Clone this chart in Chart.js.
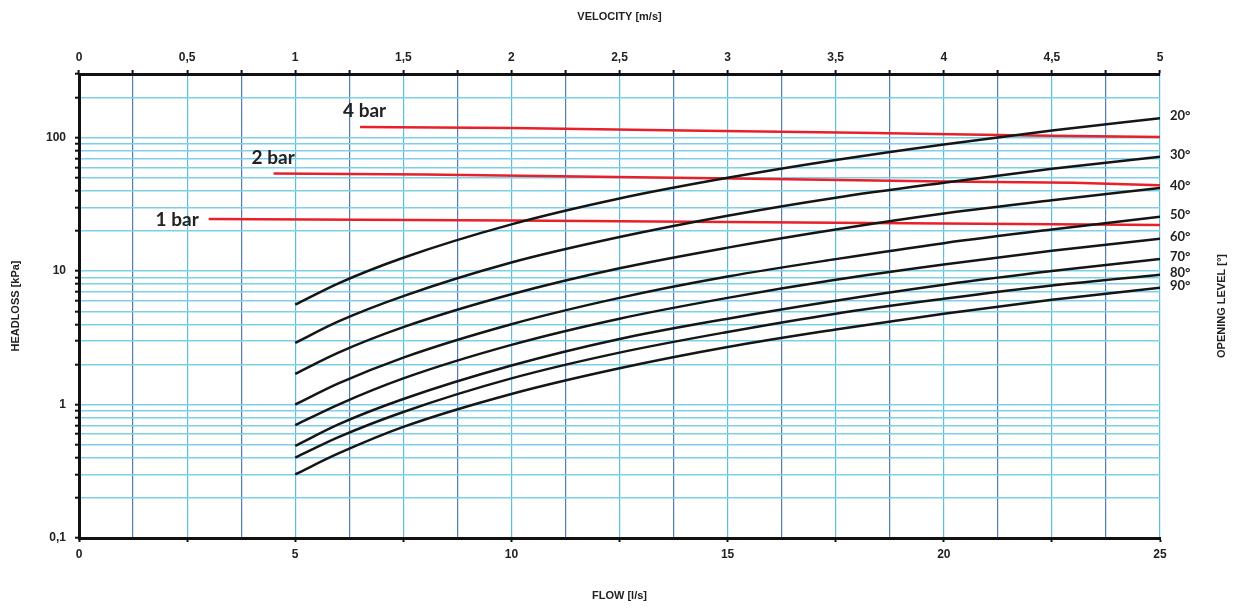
<!DOCTYPE html>
<html>
<head>
<meta charset="utf-8">
<script src="https://cdn.jsdelivr.net/npm/chart.js@4.4.0/dist/chart.umd.min.js"></script>
<style>
    html, body { margin: 0; padding: 0; background: #fff; }
    #wrap { width: 1235px; height: 610px; }
</style>
</head>
<body>
<div id="wrap"><canvas id="headlossChart"></canvas></div>
<script>
// Flow points [l/s]
const flow = [5, 6, 7.5, 10, 12.5, 15, 17.5, 20, 22.5, 25];

// Headloss per opening level [kPa]
const loss20 = [5.6, 8.1, 12.6, 22.4, 35, 50, 68, 89, 113, 140];
const loss30 = [2.9, 4.2, 6.5, 11.6, 18, 26, 35.5, 46, 58.5, 72];
const loss40 = [1.7, 2.45, 3.8, 6.7, 10.5, 15, 20.5, 27, 34, 42];
const loss50 = [1.0, 1.44, 2.25, 4.0, 6.3, 9.1, 12.3, 16.2, 20.5, 25.5];
const loss60 = [0.70, 1.0, 1.57, 2.8, 4.4, 6.3, 8.6, 11.2, 14.2, 17.5];
const loss70 = [0.49, 0.71, 1.1, 1.96, 3.1, 4.4, 6.0, 7.9, 10, 12.3];
const loss80 = [0.40, 0.57, 0.88, 1.57, 2.45, 3.5, 4.8, 6.2, 7.8, 9.4];
const loss90 = [0.30, 0.43, 0.68, 1.2, 1.87, 2.7, 3.65, 4.8, 6.1, 7.5];
const openingLabels = ['20°', '30°', '40°', '50°', '60°', '70°', '80°', '90°'];
const openingSeries = [loss20, loss30, loss40, loss50, loss60, loss70, loss80, loss90];

// Pressure lines
const bar4Flow = [6.5, 10, 14, 18, 22, 25];
const bar4Loss = [120, 118, 113, 109, 104, 101];
const bar2Flow = [4.5, 8, 12, 16, 20, 23, 25];
const bar2Loss = [54, 53, 51, 49, 47, 46, 44];
const bar1Flow = [3, 10, 15, 20, 25];
const bar1Loss = [24.6, 24, 23.3, 22.7, 22.2];
const barLabels = ['4 bar', '2 bar', '1 bar'];

// Ticks
const flowTicks = [0, 2.5, 5, 7.5, 10, 12.5, 15, 17.5, 20, 22.5, 25];
const flowLabels = [0, 5, 10, 15, 20, 25];
const velTicks = [0, 0.25, 0.5, 0.75, 1, 1.25, 1.5, 1.75, 2, 2.25, 2.5, 2.75, 3, 3.25, 3.5, 3.75, 4, 4.25, 4.5, 4.75, 5];
const velLabels = [0, 0.5, 1, 1.5, 2, 2.5, 3, 3.5, 4, 4.5, 5];
const lossTicks = [0.1, 0.2, 0.3, 0.4, 0.5, 0.6, 0.7, 0.8, 0.9, 1, 2, 3, 4, 5, 6, 7, 8, 9, 10, 20, 30, 40, 50, 60, 70, 80, 90, 100, 200, 300];
const lossLabels = [0.1, 1, 10, 100];

const narrow = "'Liberation Sans Narrow', 'Liberation Sans', Arial, sans-serif";
const comma = v => String(v).replace('.', ',');
const pts = (xs, ys) => xs.map((x, i) => ({ x: x, y: ys[i] }));

const datasets = [];
openingSeries.forEach((s, i) => {
    datasets.push({
        label: openingLabels[i],
        data: pts(flow, s),
        borderColor: '#151515',
        borderWidth: 2.5,
        pointRadius: 0,
        cubicInterpolationMode: 'monotone',
        xAxisID: 'x', yAxisID: 'y'
    });
});
[[bar4Flow, bar4Loss], [bar2Flow, bar2Loss], [bar1Flow, bar1Loss]].forEach((b, i) => {
    datasets.push({
        label: barLabels[i],
        data: pts(b[0], b[1]),
        borderColor: '#e8202a',
        borderWidth: 2.5,
        pointRadius: 0,
        tension: 0,
        xAxisID: 'x', yAxisID: 'y'
    });
});

// Text labels at the curve ends and next to the pressure lines
const labelPlugin = {
    id: 'labels',
    afterDatasetsDraw(chart) {
        const { ctx, scales } = chart;
        ctx.save();
        ctx.fillStyle = '#222';
        ctx.textBaseline = 'middle';
        ctx.font = "bold 13px Lato, sans-serif";
        ctx.textAlign = 'left';
        openingSeries.forEach((s, i) => {
            const px = scales.x.getPixelForValue(flow[flow.length - 1]);
            const py = scales.y.getPixelForValue(s[s.length - 1]);
            ctx.fillText(openingLabels[i], px + 10, py - 2);
        });

        ctx.font = "bold 19px Lato, sans-serif";
        const firsts = [[bar4Flow[0], bar4Loss[0]], [bar2Flow[0], bar2Loss[0]], [bar1Flow[0], bar1Loss[0]]];
        const offs = [[-17, -16, 'left'], [-22, -16, 'left'], [-10, 1, 'right']];
        firsts.forEach((f, i) => {
            const px = scales.x.getPixelForValue(f[0]);
            const py = scales.y.getPixelForValue(f[1]);
            ctx.textAlign = offs[i][2];
            ctx.fillText(barLabels[i], px + offs[i][0], py + offs[i][1]);
        });

        // right-hand axis title
        ctx.font = "bold 11px " + narrow;
        ctx.textAlign = 'center';
        ctx.translate(1222, (chart.chartArea.top + chart.chartArea.bottom) / 2);
        ctx.rotate(-Math.PI / 2);
        ctx.fillText('OPENING LEVEL [°]', 0, 0);
        ctx.restore();
    }
};

const ctx = document.getElementById('headlossChart').getContext('2d');
const chart = new Chart(ctx, {
    type: 'line',
    data: { datasets: datasets },
    plugins: [labelPlugin],
    options: {
        responsive: true,
        maintainAspectRatio: false,
        animation: false,
        layout: { padding: { right: 75 } },
        plugins: {
            legend: { display: false },
            tooltip: { enabled: false }
        },
        scales: {
            x: {
                type: 'linear',
                position: 'bottom',
                min: 0, max: 25,
                afterBuildTicks: s => { s.ticks = flowTicks.map(v => ({ value: v })); },
                afterFit: s => { s.height = 72; },
                grid: {
                    color: 'rgba(0,0,0,0)',
                    tickColor: '#111',
                    tickLength: 4,
                    tickWidth: 2
                },
                border: { display: true, color: '#111', width: 3 },
                ticks: {
                    autoSkip: false,
                    maxRotation: 0,
                    padding: 5,
                    color: '#222',
                    font: { family: narrow, size: 12, weight: 'bold' },
                    callback: v => flowLabels.includes(v) ? String(v) : ''
                },
                title: {
                    display: true,
                    text: 'FLOW [l/s]',
                    color: '#222',
                    padding: { bottom: 7 },
                    font: { family: narrow, size: 11, weight: 'bold' }
                }
            },
            x2: {
                type: 'linear',
                position: 'top',
                min: 0, max: 5,
                afterBuildTicks: s => { s.ticks = velTicks.map(v => ({ value: v })); },
                afterFit: s => { s.height = 74; },
                grid: {
                    color: c => (Math.round(c.tick.value * 4) % 2 === 1) ? '#4f7fae' : '#5cbde0',
                    lineWidth: 1.2,
                    tickColor: '#111',
                    tickLength: 4,
                    tickWidth: 2
                },
                border: { display: true, color: '#111', width: 3 },
                ticks: {
                    autoSkip: false,
                    maxRotation: 0,
                    padding: 5,
                    color: '#222',
                    font: { family: narrow, size: 12, weight: 'bold' },
                    callback: v => velLabels.includes(v) ? comma(v) : ''
                },
                title: {
                    display: true,
                    text: 'VELOCITY [m/s]',
                    color: '#222',
                    padding: { top: 10 },
                    font: { family: narrow, size: 11, weight: 'bold' }
                }
            },
            y: {
                type: 'logarithmic',
                position: 'left',
                min: 0.1, max: 300,
                afterBuildTicks: s => { s.ticks = lossTicks.map(v => ({ value: v })); },
                afterFit: s => { s.width = 79; },
                grid: {
                    color: '#7dd0e8',
                    lineWidth: 1.4,
                    tickColor: '#111',
                    tickLength: 4,
                    tickWidth: 2
                },
                border: { display: true, color: '#111', width: 3 },
                ticks: {
                    autoSkip: false,
                    padding: 9,
                    color: '#222',
                    font: { family: narrow, size: 12, weight: 'bold' },
                    callback: v => lossLabels.includes(v) ? comma(v) : ''
                },
                title: {
                    display: true,
                    text: 'HEADLOSS [kPa]',
                    color: '#222',
                    padding: { top: 9 },
                    font: { family: narrow, size: 11, weight: 'bold' }
                }
            }
        }
    }
});
</script>
</body>
</html>
